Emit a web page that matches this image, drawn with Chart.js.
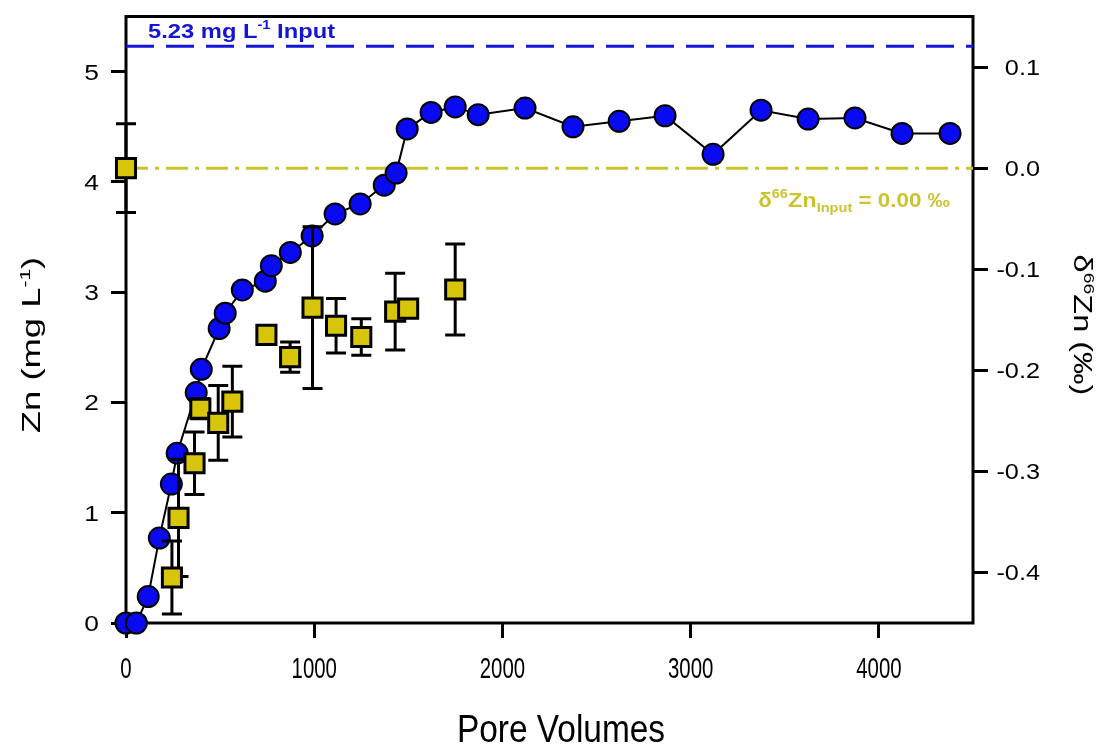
<!DOCTYPE html>
<html>
<head>
<meta charset="utf-8">
<script src="https://cdn.jsdelivr.net/npm/chart.js@4.4.1/dist/chart.umd.min.js"></script>
<style>
  html, body { margin: 0; padding: 0; background: #fff; }
  #wrap { width: 1113px; height: 747px; position: relative; }
</style>
</head>
<body>
<div id="wrap"><canvas id="c"></canvas></div>
<script>
// Effluent Zn concentration (mg L-1) versus pore volumes
const pvZn = [0, 55, 118, 177, 241, 272, 373, 400, 495, 527, 618, 740, 772, 873, 989, 1111, 1244, 1372, 1435, 1494, 1621, 1749, 1871, 2120, 2375, 2620, 2864, 3119, 3374, 3624, 3873, 4123, 4378];
const zn   = [0, 0, 0.24, 0.77, 1.26, 1.54, 2.09, 2.30, 2.67, 2.81, 3.02, 3.10, 3.24, 3.36, 3.51, 3.71, 3.80, 3.97, 4.08, 4.48, 4.63, 4.68, 4.61, 4.67, 4.50, 4.55, 4.60, 4.25, 4.65, 4.57, 4.58, 4.44, 4.44];

// Effluent δ66Zn (‰) with uncertainty
const pvIso  = [0, 244, 279, 364, 395, 490, 565, 746, 872, 991, 1116, 1250, 1430, 1499, 1749];
const d66    = [0.000, -0.405, -0.346, -0.292, -0.238, -0.252, -0.231, -0.165, -0.187, -0.138, -0.156, -0.167, -0.142, -0.139, -0.120];
const d66Err = [0.044, 0.036, 0.058, 0.031, 0.010, 0.037, 0.035, 0.006, 0.015, 0.080, 0.027, 0.018, 0.038, 0.008, 0.045];

// Input solution
const znInput = 5.23;
const d66Input = 0.00;

// Axes
const pvRange = [0, 4500];
const znRange = [0, 5.5];
const dRange  = [-0.45, 0.15];
const pvTicks = [0, 1000, 2000, 3000, 4000];
const znTicks = [0, 1, 2, 3, 4, 5];
const dTicks  = [-0.4, -0.3, -0.2, -0.1, 0.0, 0.1];

const SANS = '"Liberation Sans", Arial, sans-serif';
const BLUE = '#0a0af2';
const BLUE_LINE = '#1414d6';
const YELLOW = '#d6c50a';
const OLIVE = '#cbc431';

// Draws a run of text pieces (normal / superscript / subscript) with optional rotation and horizontal stretch
function drawRuns(ctx, parts, x, y, rot, sx, align, color) {
  ctx.save();
  ctx.translate(x, y);
  ctx.rotate(rot);
  ctx.scale(sx, 1);
  ctx.fillStyle = color;
  ctx.textBaseline = 'alphabetic';
  ctx.textAlign = 'left';
  let w = 0;
  for (const p of parts) { ctx.font = p.font; p.w = ctx.measureText(p.t).width; w += p.w; }
  let cx = align === 'center' ? -w / 2 : align === 'right' ? -w : 0;
  for (const p of parts) { ctx.font = p.font; ctx.fillText(p.t, cx, p.dy || 0); cx += p.w; }
  ctx.restore();
}

const frame = {
  id: 'frame',
  beforeDatasetsDraw(chart) {
    const { ctx, chartArea: a } = chart;
    ctx.save();
    ctx.strokeStyle = '#000';
    ctx.lineWidth = 3;
    ctx.strokeRect(a.left, a.top, a.right - a.left, a.bottom - a.top);
    ctx.restore();
  }
};

const errorBars = {
  id: 'errorBars',
  beforeDatasetDraw(chart, args) {
    if (args.index !== 3) return;
    const { ctx } = chart;
    const xs = chart.scales.x, ys = chart.scales.y2;
    ctx.save();
    ctx.strokeStyle = '#000';
    ctx.lineWidth = 3;
    pvIso.forEach((pv, i) => {
      const px = xs.getPixelForValue(pv);
      const yt = ys.getPixelForValue(d66[i] + d66Err[i]);
      const yb = ys.getPixelForValue(d66[i] - d66Err[i]);
      ctx.beginPath();
      ctx.moveTo(px, yt); ctx.lineTo(px, yb);
      ctx.moveTo(px - 10, yt); ctx.lineTo(px + 10, yt);
      ctx.moveTo(px - 10, yb); ctx.lineTo(px + 10, yb);
      ctx.stroke();
    });
    ctx.restore();
  }
};

const labels = {
  id: 'labels',
  afterDraw(chart) {
    const { ctx, chartArea: a } = chart;
    const xs = chart.scales.x, y1 = chart.scales.y, y2 = chart.scales.y2;

    // x tick labels
    pvTicks.forEach(v => {
      drawRuns(ctx, [{ t: String(v), font: `30px ${SANS}` }], xs.getPixelForValue(v), 678, 0, 0.68, 'center', '#000');
    });
    // left tick labels
    znTicks.forEach(v => {
      drawRuns(ctx, [{ t: String(v), font: `22px ${SANS}` }], a.left - 27, y1.getPixelForValue(v) + 8, 0, 1.2, 'right', '#000');
    });
    // right tick labels
    dTicks.forEach(v => {
      drawRuns(ctx, [{ t: v.toFixed(1), font: `22px ${SANS}` }], 1040, y2.getPixelForValue(v) + 8, 0, 1.15, 'right', '#000');
    });

    // axis titles
    drawRuns(ctx, [
      { t: 'Zn (mg L', font: `26px ${SANS}` },
      { t: '-1', font: `15px ${SANS}`, dy: -10 },
      { t: ')', font: `26px ${SANS}` }
    ], 40, 345, -Math.PI / 2, 1.4, 'center', '#000');

    drawRuns(ctx, [
      { t: 'δ', font: `25px ${SANS}` },
      { t: '66', font: `15px ${SANS}`, dy: -10 },
      { t: 'Zn (‰)', font: `25px ${SANS}` }
    ], 1074, 325, Math.PI / 2, 1.3, 'center', '#000');

    drawRuns(ctx, [{ t: 'Pore Volumes', font: `38px ${SANS}` }], 561, 742, 0, 0.88, 'center', '#000');

    // reference line annotations
    const yIn = y1.getPixelForValue(znInput);
    drawRuns(ctx, [
      { t: `${znInput.toFixed(2)} mg L`, font: `bold 21px ${SANS}` },
      { t: '-1', font: `bold 13px ${SANS}`, dy: -9 },
      { t: ' Input', font: `bold 21px ${SANS}` }
    ], a.left + 22, yIn - 8, 0, 1.13, 'left', BLUE_LINE);

    const yD = y2.getPixelForValue(d66Input);
    drawRuns(ctx, [
      { t: 'δ', font: `bold 20px ${SANS}` },
      { t: '66', font: `bold 13px ${SANS}`, dy: -9 },
      { t: 'Zn', font: `bold 21px ${SANS}` },
      { t: 'Input', font: `bold 13px ${SANS}`, dy: 5 },
      { t: ` = ${d66Input.toFixed(2)} ‰`, font: `bold 20px ${SANS}` }
    ], 950, yD + 39, 0, 1.12, 'right', OLIVE);
  }
};

const tickGrid = { display: true, drawOnChartArea: false, drawTicks: true, tickLength: 15, tickWidth: 3, tickColor: '#000', color: '#000', lineWidth: 3 };

new Chart(document.getElementById('c'), {
  type: 'scatter',
  data: {
    datasets: [
      {
        label: 'Zn input',
        data: pvRange.map(x => ({ x, y: znInput })),
        yAxisID: 'y', showLine: true,
        borderColor: BLUE_LINE, borderWidth: 3, borderDash: [28, 12],
        pointRadius: 0, order: 3
      },
      {
        label: 'δ66Zn input',
        data: pvRange.map(x => ({ x, y: d66Input })),
        yAxisID: 'y2', showLine: true,
        borderColor: OLIVE, borderWidth: 3, borderDash: [22, 7, 4, 7],
        pointRadius: 0, order: 2
      },
      {
        label: 'Zn',
        data: pvZn.map((x, i) => ({ x, y: zn[i] })),
        yAxisID: 'y', showLine: true,
        borderColor: '#000', borderWidth: 2,
        pointRadius: 10.5, pointBackgroundColor: BLUE, pointBorderColor: '#000', pointBorderWidth: 2,
        order: 1, clip: false
      },
      {
        label: 'δ66Zn',
        data: pvIso.map((x, i) => ({ x, y: d66[i] })),
        yAxisID: 'y2', showLine: false,
        pointStyle: 'rect', pointRadius: 13.5,
        pointBackgroundColor: YELLOW, pointBorderColor: '#000', pointBorderWidth: 3,
        order: 0, clip: false
      }
    ]
  },
  options: {
    responsive: true,
    maintainAspectRatio: false,
    animation: false,
    events: [],
    layout: { padding: { top: 14, left: 0, right: 0, bottom: 0 } },
    plugins: { legend: { display: false }, tooltip: { enabled: false } },
    scales: {
      x: {
        type: 'linear', position: 'bottom',
        min: pvRange[0], max: pvRange[1],
        afterBuildTicks: s => { s.ticks = pvTicks.map(v => ({ value: v })); },
        afterFit: s => { s.height = 124; },
        grid: tickGrid, border: { display: false },
        ticks: { display: false }
      },
      y: {
        type: 'linear', position: 'left',
        min: znRange[0], max: znRange[1],
        afterBuildTicks: s => { s.ticks = znTicks.map(v => ({ value: v })); },
        afterFit: s => { s.width = 126; },
        grid: tickGrid, border: { display: false },
        ticks: { display: false }
      },
      y2: {
        type: 'linear', position: 'right',
        min: dRange[0], max: dRange[1],
        afterBuildTicks: s => { s.ticks = dTicks.map(v => ({ value: v })); },
        afterFit: s => { s.width = 140; },
        grid: tickGrid, border: { display: false },
        ticks: { display: false }
      }
    }
  },
  plugins: [frame, errorBars, labels]
});
</script>
</body>
</html>
